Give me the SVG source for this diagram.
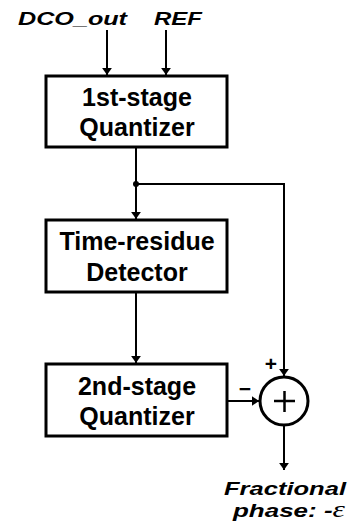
<svg xmlns="http://www.w3.org/2000/svg" width="350" height="527" viewBox="0 0 350 527">
<defs>
<marker id="arr" viewBox="0 0 10 10" refX="10" refY="5" markerWidth="3.6" markerHeight="5" preserveAspectRatio="none" orient="auto" markerUnits="strokeWidth">
<path d="M0,0 L10,5 L0,10 Z" fill="#000"/>
</marker>
</defs>
<style>
.box{fill:#fff;stroke:#000;stroke-width:3}
.bt{font-family:"Liberation Sans",Arial,sans-serif;font-weight:bold;font-size:25px;text-anchor:middle;fill:#000}
.lbl{font-family:"Liberation Sans",Arial,sans-serif;font-weight:bold;font-style:italic;font-size:19px;fill:#000}
.sg{font-family:"Liberation Sans",Arial,sans-serif;font-weight:bold;font-size:21px;text-anchor:middle;fill:#000}
.w{fill:none;stroke:#000;stroke-width:2}
</style>
<rect width="350" height="527" fill="#fff"/>
<g id="connectors">
<line class="w" x1="107" y1="30" x2="107" y2="75" marker-end="url(#arr)"/>
<line class="w" x1="166" y1="30" x2="166" y2="75" marker-end="url(#arr)"/>
<line class="w" x1="136" y1="147" x2="136" y2="219" marker-end="url(#arr)"/>
<circle cx="136" cy="184" r="3" fill="#000"/>
<polyline class="w" points="136,184 284,184 284,376" marker-end="url(#arr)"/>
<line class="w" x1="136" y1="293" x2="136" y2="363" marker-end="url(#arr)"/>
<line class="w" x1="227" y1="401" x2="259" y2="401" marker-end="url(#arr)"/>
<line class="w" x1="284" y1="425" x2="284" y2="470" marker-end="url(#arr)"/>
</g>
<g id="in-labels">
<text class="lbl" x="18" y="25" textLength="109" lengthAdjust="spacingAndGlyphs">DCO_out</text>
<text class="lbl" x="154" y="25" textLength="48" lengthAdjust="spacingAndGlyphs">REF</text>
</g>
<g id="q1">
<rect class="box" x="46" y="76" width="181" height="71"/>
<text class="bt" x="137" y="106">1st-stage</text>
<text class="bt" x="137" y="136">Quantizer</text>
</g>
<g id="trd">
<rect class="box" x="46" y="220" width="181" height="72"/>
<text class="bt" x="137" y="250">Time-residue</text>
<text class="bt" x="137" y="281">Detector</text>
</g>
<g id="q2">
<rect class="box" x="46" y="364" width="181" height="72"/>
<text class="bt" x="137" y="395">2nd-stage</text>
<text class="bt" x="137" y="425">Quantizer</text>
</g>
<g id="sum">
<circle cx="284" cy="401" r="24" fill="#fff" stroke="#000" stroke-width="3"/>
<line x1="274" y1="401" x2="295" y2="401" stroke="#000" stroke-width="2.5"/>
<line x1="284.5" y1="391" x2="284.5" y2="412" stroke="#000" stroke-width="2.5"/>
<text class="sg" x="271" y="371">+</text>
<text class="sg" x="245" y="396">−</text>
</g>
<g id="out-label">
<text class="lbl" x="224" y="495" font-size="23" textLength="122" lengthAdjust="spacingAndGlyphs">Fractional</text>
<text class="lbl" x="233" y="517" font-size="23" textLength="112" lengthAdjust="spacingAndGlyphs">phase: -<tspan font-family="Liberation Serif,Times New Roman,serif" font-weight="normal" font-size="23">ε</tspan></text>
</g>
</svg>
